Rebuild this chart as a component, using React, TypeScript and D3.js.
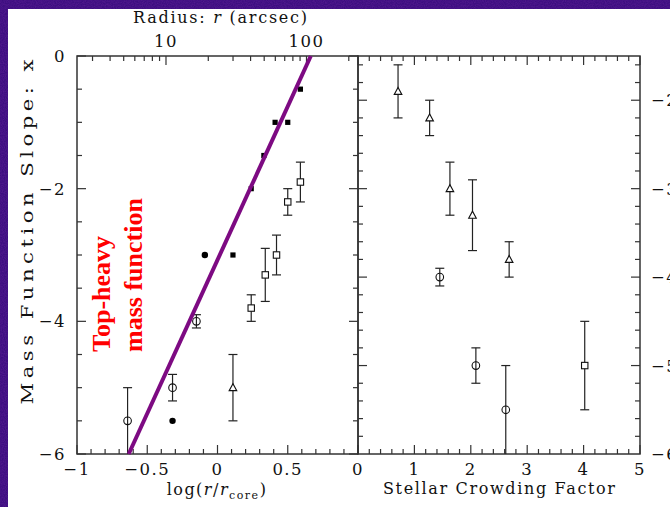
import React from 'react';
import * as d3 from 'd3';

// left panel: slope vs log(r/r_core)
const leftOpenCircles = [
  { x: -0.64, y: -5.5, e: 0.5 },
  { x: -0.32, y: -5.0, e: 0.2 },
  { x: -0.15, y: -4.0, e: 0.1 },
];
const leftFilledCircles = [
  { x: -0.32, y: -5.5 },
  { x: -0.09, y: -3.0 },
];
const leftFilledSquares = [
  { x: 0.11, y: -3.0 },
  { x: 0.24, y: -2.0 },
  { x: 0.33, y: -1.5 },
  { x: 0.41, y: -1.0 },
  { x: 0.5, y: -1.0 },
  { x: 0.59, y: -0.5 },
];
const leftTriangles = [{ x: 0.11, y: -5.0, e: 0.5 }];
const leftOpenSquares = [
  { x: 0.24, y: -3.8, e: 0.2 },
  { x: 0.34, y: -3.3, e: 0.4 },
  { x: 0.42, y: -3.0, e: 0.3 },
  { x: 0.5, y: -2.2, e: 0.2 },
  { x: 0.59, y: -1.9, e: 0.3 },
];
const fitLine = [
  { x: -0.632, y: -6 },
  { x: 0.664, y: 0 },
];

// right panel: slope vs crowding
const rightTriangles = [
  { x: 0.71, y: -1.9, e: 0.3 },
  { x: 1.27, y: -2.2, e: 0.2 },
  { x: 1.63, y: -3.0, e: 0.3 },
  { x: 2.03, y: -3.3, e: 0.4 },
  { x: 2.68, y: -3.8, e: 0.2 },
];
const rightCircles = [
  { x: 1.45, y: -4.0, e: 0.1 },
  { x: 2.09, y: -5.0, e: 0.2 },
  { x: 2.62, y: -5.5, e: 0.5 },
];
const rightSquares = [{ x: 4.02, y: -5.0, e: 0.5 }];

// ticks
const leftXLabels = [-1, -0.5, 0, 0.5];
const leftXMajor = [-1, -0.5, 0, 0.5, 1];
const leftYLabels = [0, -2, -4, -6];
const radiusMajor = [10, 100];
const radiusMinor = [3, 4, 5, 6, 7, 8, 9, 20, 30, 40, 50, 60, 70, 80, 90, 200];
const rCore = 23.26;
const rightXLabels = [0, 1, 2, 3, 4, 5];
const rightYLabels = [-2, -3, -4, -5, -6];

const W = 670;
const H = 507;
const TOP = 56;
const BOT = 454;
const MAJ = 9;
const MIN = 5;

const xL = d3.scaleLinear().domain([-1, 1]).range([77, 358]);
const yL = d3.scaleLinear().domain([-6, 0]).range([BOT, TOP]);
const xR = d3.scaleLinear().domain([0, 5]).range([358, 640]);
const yR = d3.scaleLinear().domain([-6, -1.5]).range([BOT, TOP]);
const xTop = (r: number) => xL(Math.log10(r / rCore));

const fmt = (v: number) => (v < 0 ? '\u2212' + String(-v) : String(v));

const ink = '#333';
const tickFont = { fontFamily: 'DejaVu Serif', fontSize: 16.5, letterSpacing: 1.5, fill: '#111' };

type P = { x: number; y: number; e?: number };

const ErrBar = ({ p, sx, sy }: { p: P; sx: any; sy: any }) => {
  if (!p.e) return null;
  const [lo, hi] = sy.domain();
  const top = Math.min(p.y + p.e, hi);
  const bot = Math.max(p.y - p.e, lo);
  const cx = sx(p.x);
  return (
    <g stroke="#222" strokeWidth={1.2}>
      <line x1={cx} x2={cx} y1={sy(top)} y2={sy(bot)} />
      {p.y + p.e <= hi && <line x1={cx - 4.5} x2={cx + 4.5} y1={sy(top)} y2={sy(top)} />}
      {p.y - p.e > lo && <line x1={cx - 4.5} x2={cx + 4.5} y1={sy(bot)} y2={sy(bot)} />}
    </g>
  );
};

const Marker = ({ p, sx, sy, kind }: { p: P; sx: any; sy: any; kind: string }) => {
  const cx = sx(p.x);
  const cy = sy(p.y);
  if (kind === 'circle') return <circle cx={cx} cy={cy} r={3.8} fill="none" stroke="#111" strokeWidth={1.1} />;
  if (kind === 'dot') return <circle cx={cx} cy={cy} r={3.2} fill="#000" />;
  if (kind === 'fsquare') return <rect x={cx - 2.6} y={cy - 2.6} width={5.2} height={5.2} fill="#000" />;
  if (kind === 'square')
    return <rect x={cx - 3.2} y={cy - 3.2} width={6.4} height={6.4} fill="#fff" stroke="#111" strokeWidth={1.1} />;
  return (
    <path
      d={`M${cx - 3.8},${cy + 3} L${cx + 3.8},${cy + 3} L${cx},${cy - 4} Z`}
      fill="#fff"
      stroke="#111"
      strokeWidth={1.1}
    />
  );
};

const Series = ({ data, sx, sy, kind }: { data: P[]; sx: any; sy: any; kind: string }) => (
  <g>
    {data.map((p, i) => (
      <g key={i}>
        <ErrBar p={p} sx={sx} sy={sy} />
        <Marker p={p} sx={sx} sy={sy} kind={kind} />
      </g>
    ))}
  </g>
);

const stepRange = (a: number, b: number, s: number) => d3.range(Math.round((b - a) / s) + 1).map((i) => +(a + i * s).toFixed(3));

const App = () => {
  const lxMinor = stepRange(-1, 1, 0.1);
  const lyMinor = stepRange(-6, 0, 0.5);
  const rxMinor = stepRange(0, 5, 0.2);
  const ryMinor = stepRange(-5.8, -1.6, 0.2);

  const line = d3
    .line<{ x: number; y: number }>()
    .x((d) => xL(d.x))
    .y((d) => yL(d.y));

  return (
    <svg width={W} height={H} style={{ position: 'absolute', left: 0, top: 0 }}>
      <defs>
        <filter id="grain" x="0" y="0" width="100%" height="100%">
          <feTurbulence type="fractalNoise" baseFrequency="0.9" numOctaves={2} seed={3} />
          <feColorMatrix values="0 0 0 0 0.15  0 0 0 0 0.02  0 0 0 0 0.35  0 0 0 1.2 -0.3" />
        </filter>
      </defs>
      <rect width={W} height={H} fill="#3c0e80" />
      <rect width={W} height={H} filter="url(#grain)" opacity={0.6} />
      <rect x={8} y={9} width={W - 8} height={H - 9} fill="#fff" />

      {/* left panel ticks */}
      <g stroke={ink} strokeWidth={1.2}>
        {lxMinor.map((v) => {
          const len = leftXMajor.includes(v) ? MAJ : MIN;
          return <line key={'lb' + v} x1={xL(v)} x2={xL(v)} y1={BOT} y2={BOT - len} />;
        })}
        {radiusMinor.map((r) => (
          <line key={'rt' + r} x1={xTop(r)} x2={xTop(r)} y1={TOP} y2={TOP + MIN} />
        ))}
        {radiusMajor.map((r) => (
          <line key={'rT' + r} x1={xTop(r)} x2={xTop(r)} y1={TOP} y2={TOP + MAJ} />
        ))}
        {lyMinor.map((v) => {
          const len = leftYLabels.includes(v) ? MAJ : MIN;
          return (
            <g key={'ly' + v}>
              <line x1={77} x2={77 + len} y1={yL(v)} y2={yL(v)} />
              <line x1={358} x2={358 - len} y1={yL(v)} y2={yL(v)} />
            </g>
          );
        })}
        {/* right panel ticks */}
        {rxMinor.map((v) => {
          const len = Number.isInteger(v) ? MAJ : MIN;
          return (
            <g key={'rx' + v}>
              <line x1={xR(v)} x2={xR(v)} y1={BOT} y2={BOT - len} />
              <line x1={xR(v)} x2={xR(v)} y1={TOP} y2={TOP + len} />
            </g>
          );
        })}
        {ryMinor.map((v) => {
          const len = Number.isInteger(v) ? MAJ : MIN;
          return (
            <g key={'ry' + v}>
              <line x1={358} x2={358 + len} y1={yR(v)} y2={yR(v)} />
              <line x1={640} x2={640 - len} y1={yR(v)} y2={yR(v)} />
            </g>
          );
        })}
      </g>

      {/* frames */}
      <rect x={77} y={TOP} width={358 - 77} height={BOT - TOP} fill="none" stroke={ink} strokeWidth={1.5} />
      <rect x={358} y={TOP} width={640 - 358} height={BOT - TOP} fill="none" stroke={ink} strokeWidth={1.5} />

      {/* tick labels */}
      <g {...tickFont}>
        {leftXLabels.map((v) => (
          <text key={'lxl' + v} x={xL(v)} y={475} textAnchor="middle">
            {fmt(v)}
          </text>
        ))}
        {rightXLabels.map((v) => (
          <text key={'rxl' + v} x={xR(v)} y={475} textAnchor="middle">
            {fmt(v)}
          </text>
        ))}
        {radiusMajor.map((r) => (
          <text key={'rl' + r} x={xTop(r)} y={46.5} textAnchor="middle">
            {r}
          </text>
        ))}
        {leftYLabels.map((v) => (
          <text key={'lyl' + v} x={66} y={yL(v) + 6} textAnchor="end">
            {fmt(v)}
          </text>
        ))}
        {rightYLabels.map((v) => (
          <text key={'ryl' + v} x={651} y={yR(v) + 6}>
            {fmt(v)}
          </text>
        ))}
      </g>

      {/* axis titles */}
      <g fontFamily="DejaVu Serif" fontSize={16} fill="#111">
        <text x={220} y={22.5} textAnchor="middle" textLength={174} lengthAdjust="spacing">
          Radius: <tspan fontStyle="italic">r</tspan> (arcsec)
        </text>
        <text x={499} y={494} textAnchor="middle" textLength={232} lengthAdjust="spacing">
          Stellar Crowding Factor
        </text>
        <text
          transform="translate(33,232) rotate(-90) scale(1.25,1)"
          textAnchor="middle"
          fontSize={17}
          textLength={276}
          lengthAdjust="spacing"
        >
          Mass Function Slope: x
        </text>
        <text x={217} y={495} textAnchor="middle" letterSpacing={1.5}>
          log(<tspan fontStyle="italic">r</tspan>/<tspan fontStyle="italic">r</tspan>
          <tspan fontSize={11} dy={4}>
            core
          </tspan>
          <tspan dy={-4}>)</tspan>
        </text>
      </g>

      {/* data */}
      <Series data={leftOpenSquares} sx={xL} sy={yL} kind="square" />
      <Series data={leftTriangles} sx={xL} sy={yL} kind="triangle" />
      <Series data={leftOpenCircles} sx={xL} sy={yL} kind="circle" />
      <Series data={leftFilledCircles} sx={xL} sy={yL} kind="dot" />
      <Series data={leftFilledSquares} sx={xL} sy={yL} kind="fsquare" />

      <Series data={rightTriangles} sx={xR} sy={yR} kind="triangle" />
      <Series data={rightCircles} sx={xR} sy={yR} kind="circle" />
      <Series data={rightSquares} sx={xR} sy={yR} kind="square" />

      <path d={line(fitLine) || ''} stroke="#7d0a82" strokeWidth={4} fill="none" />

      <g fontFamily="Liberation Serif" fontWeight="bold" fontSize={26} fill="#ff0000">
        <text transform="translate(110,352) rotate(-90)">Top-heavy</text>
        <text transform="translate(142,352) rotate(-90)">mass function</text>
      </g>
    </svg>
  );
};

export default App;
